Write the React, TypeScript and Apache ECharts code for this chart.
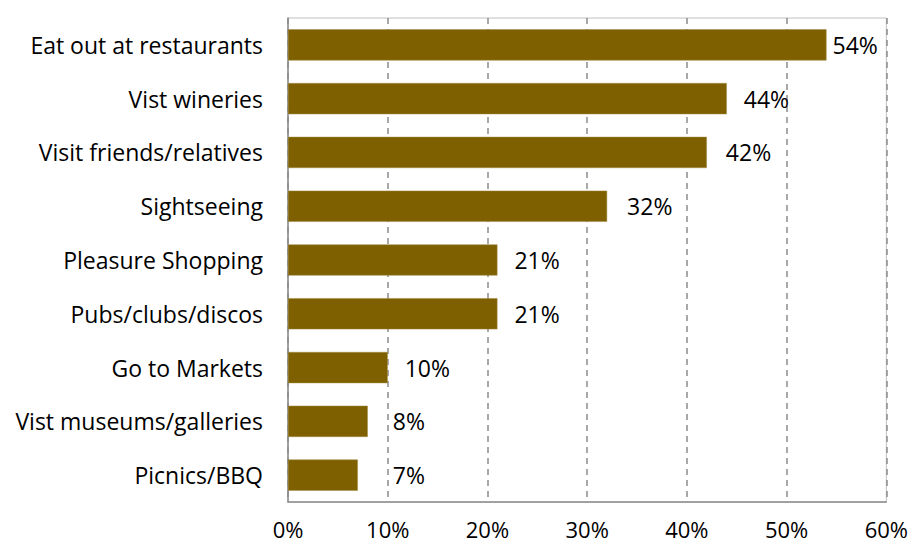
import React, { useEffect, useRef } from "react";
import * as echarts from "echarts";

// Activities, listed from top to bottom
const activities = [
  "Eat out at restaurants",
  "Vist wineries",
  "Visit friends/relatives",
  "Sightseeing",
  "Pleasure Shopping",
  "Pubs/clubs/discos",
  "Go to Markets",
  "Vist museums/galleries",
  "Picnics/BBQ",
];
const shares = [54, 44, 42, 32, 21, 21, 10, 8, 7];
const axisTicks = [0, 10, 20, 30, 40, 50, 60];

const FONT = "'Open Sans', sans-serif";
const SIZE = 23;

export default function App() {
  const ref = useRef<HTMLDivElement>(null);

  useEffect(() => {
    if (!ref.current) return;
    const chart = echarts.init(ref.current, null, { renderer: "svg" });

    // gap in px between each bar's end and its value label
    const labelGap = [6, 17, 19, 20, 17, 17, 17, 25, 35];

    chart.setOption({
      animation: false,
      backgroundColor: "#ffffff",
      grid: { left: 288, right: 22, top: 18, bottom: 43, containLabel: false, show: true, borderColor: "#c0c0c0", borderWidth: 1 },
      xAxis: {
        type: "value",
        min: axisTicks[0],
        max: axisTicks[axisTicks.length - 1],
        interval: 10,
        axisLine: { show: true, lineStyle: { color: "#8c8c8c", width: 1.5 } },
        axisTick: { show: false },
        axisLabel: {
          formatter: (v: number) => `${v}%`,
          color: "#000",
          fontSize: 22,
          lineHeight: 22,
          fontFamily: FONT,
          margin: 16,
        },
        splitLine: { show: true, lineStyle: { color: "#8c8c8c", type: [6, 5], width: 1.5 } },
      },
      yAxis: {
        type: "category",
        data: activities,
        inverse: true,
        axisLine: { show: true, lineStyle: { color: "#8c8c8c", width: 1.5 } },
        axisTick: { show: false },
        axisLabel: { color: "#000", fontSize: SIZE, fontFamily: FONT, margin: 25 },
      },
      series: [
        {
          type: "bar",
          data: shares.map((v, i) => ({ value: v, label: { distance: labelGap[i] } })),
          barCategoryGap: "42%",
          itemStyle: { color: "#7f6000", borderColor: "#a08a40", borderWidth: 0.5 },
          label: {
            show: true,
            position: "right",
            formatter: (p: any) => `${p.value}%`,
            color: "#000",
            fontSize: SIZE,
            fontFamily: FONT,
          },
        },
      ],
    });
    return () => chart.dispose();
  }, []);

  return <div ref={ref} style={{ width: 911, height: 545, position: "absolute", left: 0, top: 0 }} />;
}
